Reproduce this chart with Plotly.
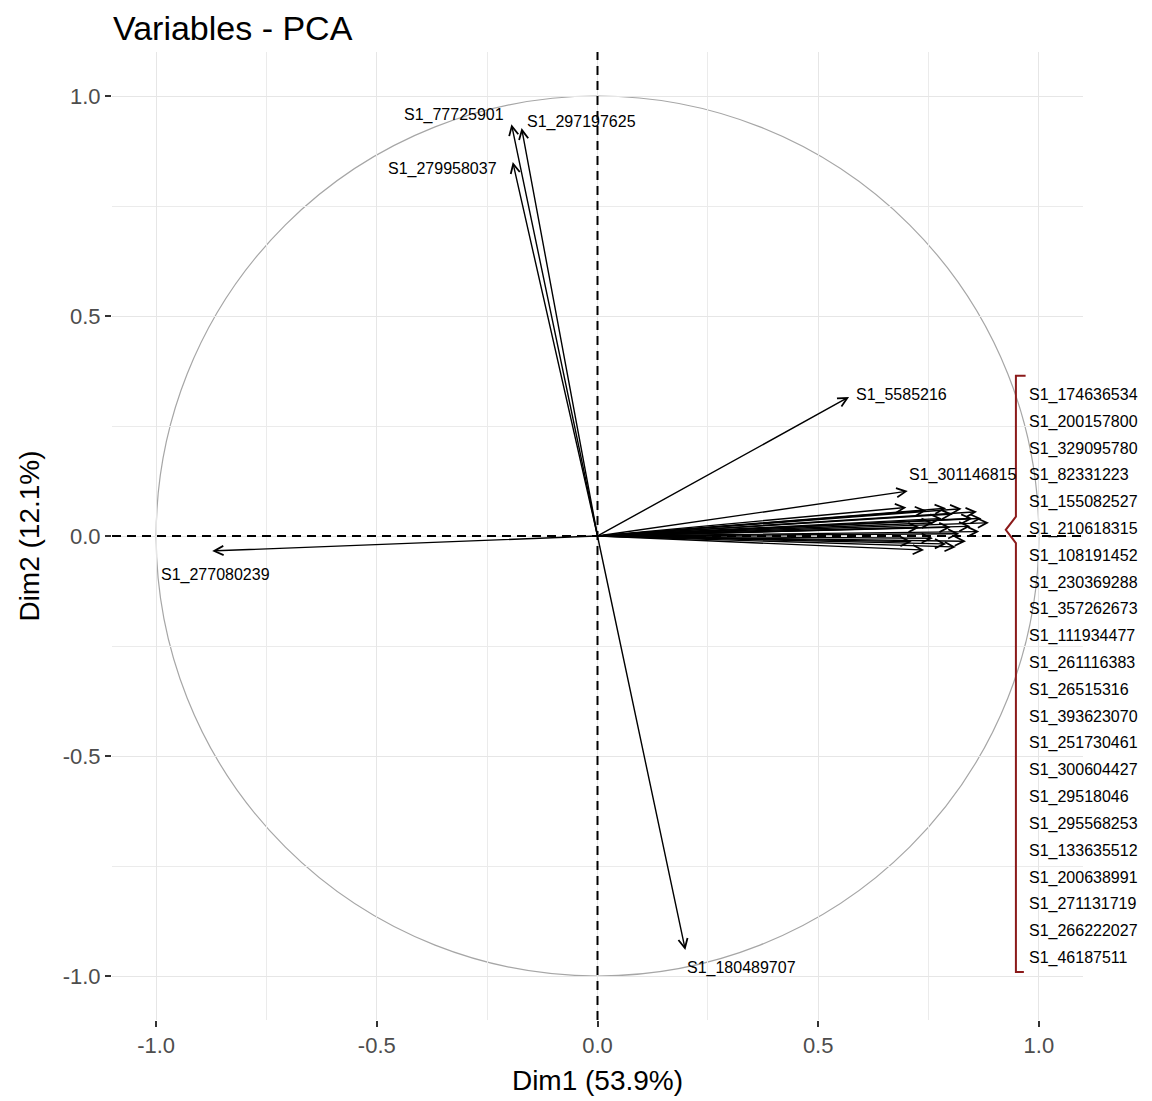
import plotly.graph_objects as go
import numpy as np

# ---------------- data ----------------
# labelled single arrows
lab_names = ["S1_277080239", "S1_180489707", "S1_5585216", "S1_301146815",
             "S1_77725901", "S1_297197625", "S1_279958037"]
lab_dim1 = [-0.873, 0.199, 0.570, 0.703, -0.195, -0.172, -0.192]
lab_dim2 = [-0.034, -0.941, 0.316, 0.102, 0.936, 0.927, 0.850]

# bundle of variables grouped by the bracket
grp_names = ["S1_174636534", "S1_200157800", "S1_329095780", "S1_82331223",
             "S1_155082527", "S1_210618315", "S1_108191452", "S1_230369288",
             "S1_357262673", "S1_111934477", "S1_261116383", "S1_26515316",
             "S1_393623070", "S1_251730461", "S1_300604427", "S1_29518046",
             "S1_295568253", "S1_133635512", "S1_200638991", "S1_271131719",
             "S1_266222027", "S1_46187511"]
grp_dim1 = [0.887, 0.860, 0.825, 0.790, 0.700, 0.745, 0.865, 0.850, 0.835, 0.812,
            0.740, 0.712, 0.800, 0.780, 0.845, 0.820, 0.760, 0.730, 0.870, 0.805,
            0.790, 0.760]
grp_dim2 = [0.030, 0.055, 0.062, 0.063, 0.065, 0.058, 0.010, 0.040, -0.012, -0.025,
            -0.032, -0.013, 0.020, 0.040, 0.022, 0.005, -0.005, 0.020, 0.040, 0.050,
            -0.018, 0.030]

tick_vals = [-1.0, -0.5, 0.0, 0.5, 1.0]
tick_text = ["-1.0", "-0.5", "0.0", "0.5", "1.0"]
x_title = "Dim1 (53.9%)"
y_title = "Dim2 (12.1%)"
title = "Variables - PCA"

# ---------------- styling ----------------
FONT = "Liberation Sans, Arial, sans-serif"
# label placement (anchor, xshift, yshift) for labelled arrows
lab_style = [("center", 3, -24), ("left", 0, -18), ("left", 5, 2), ("left", -1, 16),
             ("right", -5, 9), ("left", 3, 6), ("right", -14, -7)]

fig = go.Figure()
fig.add_trace(go.Scatter(x=[None], y=[None], showlegend=False, hoverinfo="skip"))

annotations = []
all_x = lab_dim1 + grp_dim1
all_y = lab_dim2 + grp_dim2
for xv, yv in zip(all_x, all_y):
    annotations.append(dict(
        x=xv, y=yv, xref="x", yref="y", ax=0, ay=0, axref="x", ayref="y",
        text="", showarrow=True, arrowhead=5, arrowsize=1.3, arrowwidth=1.4,
        arrowcolor="black", standoff=0, startstandoff=0))

for name, xv, yv, (anc, xs, ys) in zip(lab_names, lab_dim1, lab_dim2, lab_style):
    annotations.append(dict(
        x=xv, y=yv, xref="x", yref="y", text=name, showarrow=False,
        xanchor=anc, yanchor="middle", xshift=xs, yshift=ys,
        font=dict(family=FONT, size=16, color="black")))

# bracket labels
br_x = 0.948
br_top, br_bot = 0.364, -0.991
lab_top, lab_bot = 0.3205, -0.959
ys_lab = np.linspace(lab_top, lab_bot, len(grp_names))
for name, yv in zip(grp_names, ys_lab):
    annotations.append(dict(
        x=0.973, y=yv, xref="x", yref="y", text=name, showarrow=False,
        xanchor="left", yanchor="middle",
        font=dict(family=FONT, size=16, color="black")))

# bracket shape
notch_y = 0.014
fig.add_trace(go.Scatter(
    x=[br_x + 0.022, br_x, br_x, br_x - 0.023, br_x, br_x, br_x + 0.018],
    y=[br_top, br_top, notch_y + 0.03, notch_y, notch_y - 0.03, br_bot, br_bot],
    mode="lines", line=dict(color="#8B1A1A", width=2), showlegend=False,
    hoverinfo="skip"))

shapes = [
    dict(type="circle", xref="x", yref="y", x0=-1, y0=-1, x1=1, y1=1,
         line=dict(color="#A6A6A6", width=1.2), layer="below"),
    dict(type="line", xref="paper", yref="y", x0=0, x1=1, y0=0, y1=0,
         line=dict(color="black", width=2, dash="9px,6px")),
    dict(type="line", xref="x", yref="paper", x0=0, x1=0, y0=0, y1=1,
         line=dict(color="black", width=2, dash="9px,6px")),
]

axis_common = dict(
    range=[-1.1, 1.1], showline=False, zeroline=False, automargin=False,
    showgrid=True, gridcolor="#E6E6E6", gridwidth=1.3,
    minor=dict(dtick=0.25, showgrid=True, gridcolor="#EBEBEB", gridwidth=0.8),
    ticks="outside", ticklen=6, tickwidth=1.5, tickcolor="#333333",
    tickfont=dict(family=FONT, size=22, color="#4D4D4D"),
    tickvals=tick_vals, ticktext=tick_text,
)

fig.update_layout(
    width=1152, height=1101,
    margin=dict(l=112, r=69, t=52, b=81),
    paper_bgcolor="white", plot_bgcolor="white",
    title=dict(text=title, x=113 / 1152, xref="container", xanchor="left",
               y=1 - 28 / 1101, yref="container", yanchor="middle",
               automargin=False,
               font=dict(family=FONT, size=34, color="black")),
    xaxis=dict(**axis_common,
               title=dict(text=x_title, standoff=12,
                          font=dict(family=FONT, size=28, color="black"))),
    yaxis=dict(**axis_common,
               title=dict(text=y_title, standoff=14,
                          font=dict(family=FONT, size=28, color="black"))),
    shapes=shapes, annotations=annotations, showlegend=False,
)

fig.write_html("out.html", config={"displayModeBar": False},
               post_script="document.body.style.margin='0px';"
                           "document.body.style.overflow='hidden';")
